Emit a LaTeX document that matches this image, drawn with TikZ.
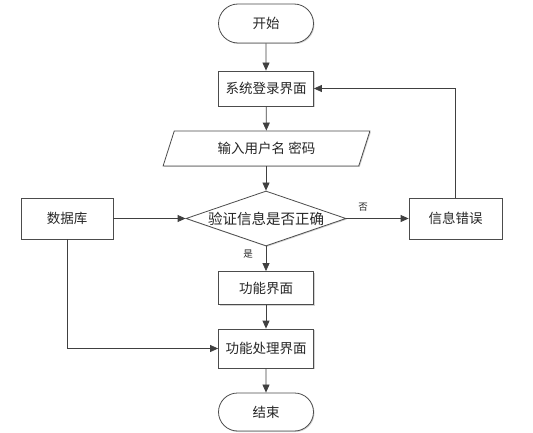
\documentclass[tikz,border=0pt]{standalone}
\usepackage{fontspec}
\newfontfamily\cjk{Noto Sans CJK SC}[Scale=1]
\usetikzlibrary{shapes.geometric,shapes.misc,arrows.meta,shadows}
\begin{document}
\begin{tikzpicture}[x=1pt,y=-1pt,
  every node/.style={font=\cjk\fontsize{13.5}{15}\selectfont, text=black!85},
  base/.style={draw=black!70, line width=0.8pt, fill=white, inner sep=0pt,
    drop shadow={shadow xshift=1pt, shadow yshift=-1pt, opacity=0.35, fill=black!50}},
  procbox/.style={base, rectangle, minimum width=95pt, minimum height=35pt},
  term/.style={base, rounded rectangle, minimum width=95pt, minimum height=39pt},
  decision/.style={base, diamond, minimum width=160pt, minimum height=55pt, shape aspect=2.9,
    font=\cjk\fontsize{14.5}{16}\selectfont},
  iobox/.style={base, trapezium, trapezium left angle=65, trapezium right angle=115,
    trapezium stretches=true, minimum width=207pt, minimum height=35pt},
  conn/.style={draw=black!75, line width=0.8pt, -{Triangle[length=8pt,width=7pt]}},
  lab/.style={font=\cjk\fontsize{9.5}{10}\selectfont, text=black!85}
]
\useasboundingbox (0,0) rectangle (533,433);
\node[term] (start) at (266,23.5) {开始};
\node[procbox] (login) at (266,88.5) {系统登录界面};
\node[iobox] (input) at (266.5,148.5) {输入用户名 密码};
\node[decision] (check) at (266,218.5) {验证信息是否正确};
\node[procbox, minimum width=92pt, minimum height=41pt] (db) at (67,218.5) {数据库};
\node[procbox, minimum width=93pt, minimum height=41pt] (err) at (455.5,218.5) {信息错误};
\node[procbox, minimum height=33pt] (func) at (266,288) {功能界面};
\node[procbox, minimum height=39pt] (proc) at (266,348.5) {功能处理界面};
\node[term, minimum height=38pt] (stop) at (266,412) {结束};
\node[lab] (no) at (363,207) {否};
\node[lab] (yes) at (248,254) {是};
\draw[conn] (start) -- (login);
\draw[conn] (login) -- (input);
\draw[conn] (input.south -| check.north) -- (check.north);
\draw[conn] (db) -- (check.west);
\draw[conn] (check.east) -- (err);
\draw[conn] (err.north) |- (login.east);
\draw[conn] (check.south) -- (func);
\draw[conn] (func) -- (proc);
\draw[conn] (db.south) |- (proc.west);
\draw[conn] (proc) -- (stop);
\end{tikzpicture}
\end{document}
